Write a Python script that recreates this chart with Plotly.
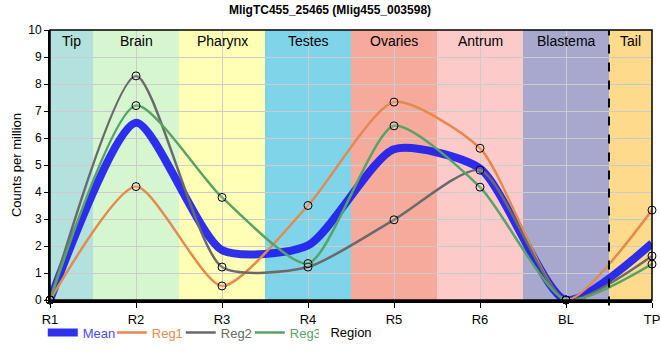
import plotly.graph_objects as go

categories = ["R1", "R2", "R3", "R4", "R5", "R6", "BL", "TP"]
reg1 = [0, 4.2, 0.52, 3.5, 7.33, 5.62, 0, 3.33]
reg2 = [0, 8.3, 1.22, 1.22, 2.97, 4.81, 0, 1.63]
reg3 = [0, 7.2, 3.8, 1.35, 6.45, 4.18, 0, 1.33]
mean = [round((a + b + c) / 3, 3) for a, b, c in zip(reg1, reg2, reg3)]

regions = ["Tip", "Brain", "Pharynx", "Testes", "Ovaries", "Antrum", "Blastema", "Tail"]
region_colors = ["#b3e1dd", "#d6f6d0", "#ffffb5", "#7fd4ea", "#f5aa9c", "#fdcaca", "#a8a8cf", "#fedb8c"]

FONT = "Liberation Sans, Arial, sans-serif"
xs = list(range(len(categories)))
SMOOTH = 0.65

fig = go.Figure()

for i, (name, col) in enumerate(zip(regions, region_colors)):
    x0 = max(i - 0.5, 0)
    x1 = min(i + 0.5, len(categories) - 1)
    fig.add_shape(type="rect", xref="x", yref="paper", x0=x0, x1=x1, y0=0, y1=1,
                  fillcolor=col, line_width=0, layer="below")
    fig.add_annotation(x=(x0 + x1) / 2, y=0.995, xref="x", yref="paper", text=name,
                       showarrow=False, yanchor="top",
                       font=dict(family=FONT, size=14, color="black"))

fig.add_shape(type="line", xref="x", yref="paper", x0=6.5, x1=6.5, y0=-0.02, y1=1,
              line=dict(color="black", width=2, dash="dash"))

series = [("Reg1", reg1, "#e48a4c"), ("Reg2", reg2, "#6a6a6a"), ("Reg3", reg3, "#58a265")]

fig.add_trace(go.Scatter(x=xs, y=mean, mode="lines", name="<span style='color:#4a4af0'>Mean</span>",
                         line=dict(color="rgba(25,25,240,0.9)", width=8, shape="spline", smoothing=SMOOTH)))
for name, vals, col in series:
    fig.add_trace(go.Scatter(x=xs, y=vals, mode="lines", name=f"<span style='color:{col}'>{name}</span>",
                             line=dict(color=col, width=2.5, shape="spline", smoothing=SMOOTH)))
for name, vals, col in series:
    fig.add_trace(go.Scatter(x=xs, y=vals, mode="markers", showlegend=False, cliponaxis=False,
                             marker=dict(symbol="circle", size=8, color="rgba(255,255,255,0.15)",
                                         line=dict(color="black", width=1))))

fig.update_layout(
    width=660, height=360,
    margin=dict(l=50, r=8, t=30, b=60, autoexpand=False),
    paper_bgcolor="white", plot_bgcolor="white",
    title=dict(text="<b>MligTC455_25465 (Mlig455_003598)</b>", x=0.5, xanchor="center",
               yref="container", y=0.985, yanchor="top",
               font=dict(family=FONT, size=12, color="black")),
    font=dict(family=FONT, size=12, color="black"),
    showlegend=True,
    legend=dict(orientation="h", x=-0.012, xanchor="left", y=-0.065, yanchor="top",
                font=dict(family=FONT, size=13), bgcolor="rgba(0,0,0,0)",
                itemwidth=30, entrywidth=24, entrywidthmode="pixels"),
)
fig.update_xaxes(range=[0, 7], tickvals=xs, ticktext=categories, showgrid=True,
                 gridcolor="#cccccc", gridwidth=1, showline=True, linecolor="black", linewidth=3,
                 ticks="outside", ticklen=5, tickcolor="black", ticklabeloverflow="allow",
                 tickfont=dict(family=FONT, size=13),
                 title=dict(text="Region", font=dict(family=FONT, size=13), standoff=3),
                 zeroline=False)
fig.update_yaxes(range=[0, 10], dtick=1, showgrid=True, gridcolor="#cccccc", gridwidth=1,
                 showline=True, linecolor="black", linewidth=2, ticks="outside", ticklen=4,
                 tickcolor="black", tickfont=dict(family=FONT, size=12),
                 title=dict(text="Counts per million", font=dict(family=FONT, size=13), standoff=4),
                 zeroline=False)
fig.add_shape(type="rect", xref="paper", yref="paper", x0=0, x1=1, y0=0, y1=1,
              line=dict(color="black", width=1.5), fillcolor="rgba(0,0,0,0)", layer="above")

fig.write_html("out.html", config={"displayModeBar": False},
               post_script="document.body.style.margin='0';document.body.style.overflow='hidden';")
